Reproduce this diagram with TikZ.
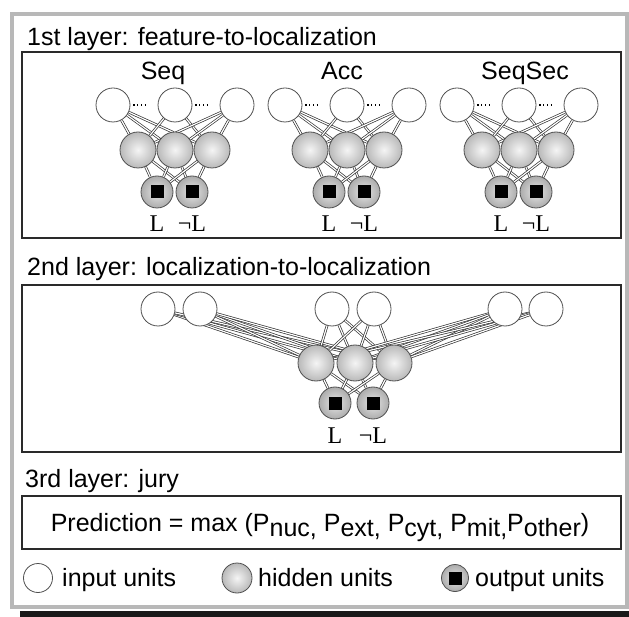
\documentclass[tikz,border=0pt]{standalone}
\usepackage{fontspec}
\setmainfont{Liberation Sans}
\newfontfamily\lblfont{Liberation Serif}
\usetikzlibrary{positioning,backgrounds}
\definecolor{FrameGray}{HTML}{B8B8B8}
\definecolor{BoxLine}{HTML}{2A2A2A}
\definecolor{UnitLine}{HTML}{505050}
\newcommand\subtxt[1]{\raisebox{-5pt}{#1}}

\begin{document}
\begin{tikzpicture}[x=1pt, y=-1pt,
  ttl/.style={anchor=base west, inner sep=0pt, font=\fontsize{25}{28}\selectfont},
  grp/.style={anchor=base, inner sep=0pt, font=\fontsize{25}{28}\selectfont},
  lyrbox/.style={draw=BoxLine, line width=1.6pt},
  inunit/.style={circle, draw=UnitLine, line width=0.8pt, fill=white,
                 minimum size=34pt, inner sep=0pt},
  hidunit/.style={circle, draw=UnitLine, line width=0.8pt, inner color=gray!8,
                  outer color=gray!55, minimum size=36pt, inner sep=0pt},
  outunit/.style={circle, draw=UnitLine, line width=0.8pt, inner color=gray!20,
                  outer color=gray!65, minimum size=32pt, inner sep=0pt,
                  path picture={\fill[black] ([shift={(-6.5pt,-6.5pt)}]path picture bounding box.center)
                                rectangle ++(13pt,13pt);}},
  wire/.style={draw=black!80, line width=0.7pt, double=white, double distance=1.2pt},
  ldots/.style={line width=1.1pt, dash pattern=on 1.2pt off 2.6pt, shorten <=3pt, shorten >=11pt},
  lbl/.style={anchor=base, inner sep=0pt, font=\lblfont\fontsize{24}{26}\selectfont}
]
  \useasboundingbox (0,0) rectangle (629,617);
  \fill[black!90] (20,611) rectangle (629,617);
  \draw[FrameGray, line width=3.5pt] (12,14) rectangle (627,607);

  % 1st layer
  \node[ttl] (t1) at (27,46) {1st layer: feature-to-localization};
  \draw[lyrbox] (22,52) rectangle (621,238);
  \foreach \net/\cx/\lx/\name in {seq/175/163/Seq, acc/347/342/Acc, sec/519/525/SeqSec} {
    \node[grp] (\net-lab) at (\lx,80) {\name};
    \node[inunit]  (\net-i1) at (\cx-62,105) {};
    \node[inunit]  (\net-i2) at (\cx,105) {};
    \node[inunit]  (\net-i3) at (\cx+62,105) {};
    \node[hidunit] (\net-h1) at (\cx-37,150) {};
    \node[hidunit] (\net-h2) at (\cx,150) {};
    \node[hidunit] (\net-h3) at (\cx+37,150) {};
    \node[outunit] (\net-o1) at (\cx-18,192) {};
    \node[outunit] (\net-o2) at (\cx+17,192) {};
    \node[lbl] (\net-l1) at (\cx-18,232) {L};
    \node[lbl] (\net-l2) at (\cx+17,232) {¬L};
    \draw[ldots] (\net-i1) -- (\net-i2);
    \draw[ldots] (\net-i2) -- (\net-i3);
    \begin{scope}[on background layer]
      \foreach \i in {1,2,3}
        \foreach \h in {1,2,3}
          \draw[wire] (\net-i\i) -- (\net-h\h);
      \foreach \h in {1,2,3}
        \foreach \o in {1,2}
          \draw[wire] (\net-h\h) -- (\net-o\o);
    \end{scope}
  }

  % 2nd layer
  \node[ttl] (t2) at (27,276) {2nd layer: localization-to-localization};
  \draw[lyrbox] (22,285) rectangle (621,452);
  \foreach \n/\x in {1/158, 2/200, 3/332, 4/374, 5/505, 6/546}
    \node[inunit] (loc-i\n) at (\x,309) {};
  \foreach \n/\x in {1/316, 2/355, 3/394}
    \node[hidunit] (loc-h\n) at (\x,363) {};
  \node[outunit] (loc-o1) at (335,403) {};
  \node[outunit] (loc-o2) at (373,403) {};
  \node[lbl] (loc-l1) at (335,443) {L};
  \node[lbl] (loc-l2) at (373,443) {¬L};
  \begin{scope}[on background layer]
    \foreach \i in {1,...,6}
      \foreach \h in {1,2,3}
        \draw[wire] (loc-i\i) -- (loc-h\h);
    \foreach \h in {1,2,3}
      \foreach \o in {1,2}
        \draw[wire] (loc-h\h) -- (loc-o\o);
  \end{scope}

  % 3rd layer
  \node[ttl] (t3) at (25,487) {3rd layer: jury};
  \draw[lyrbox] (22,496) rectangle (621,549);
  \node[grp] (jury) at (320,531)
    {Prediction = max (P\subtxt{nuc,} P\subtxt{ext,} P\subtxt{cyt,} P\subtxt{mit,}P\subtxt{other})};

  % key
  \node[inunit, minimum size=29pt]  (key-in)  at (38,578) {};
  \node[ttl] (key-in-txt) at (62,586) {input units};
  \node[hidunit, minimum size=30pt] (key-hid) at (237,578) {};
  \node[ttl] (key-hid-txt) at (258,586) {hidden units};
  \node[outunit, minimum size=27pt] (key-out) at (455,578) {};
  \node[ttl] (key-out-txt) at (475,586) {output units};
\end{tikzpicture}
\end{document}
